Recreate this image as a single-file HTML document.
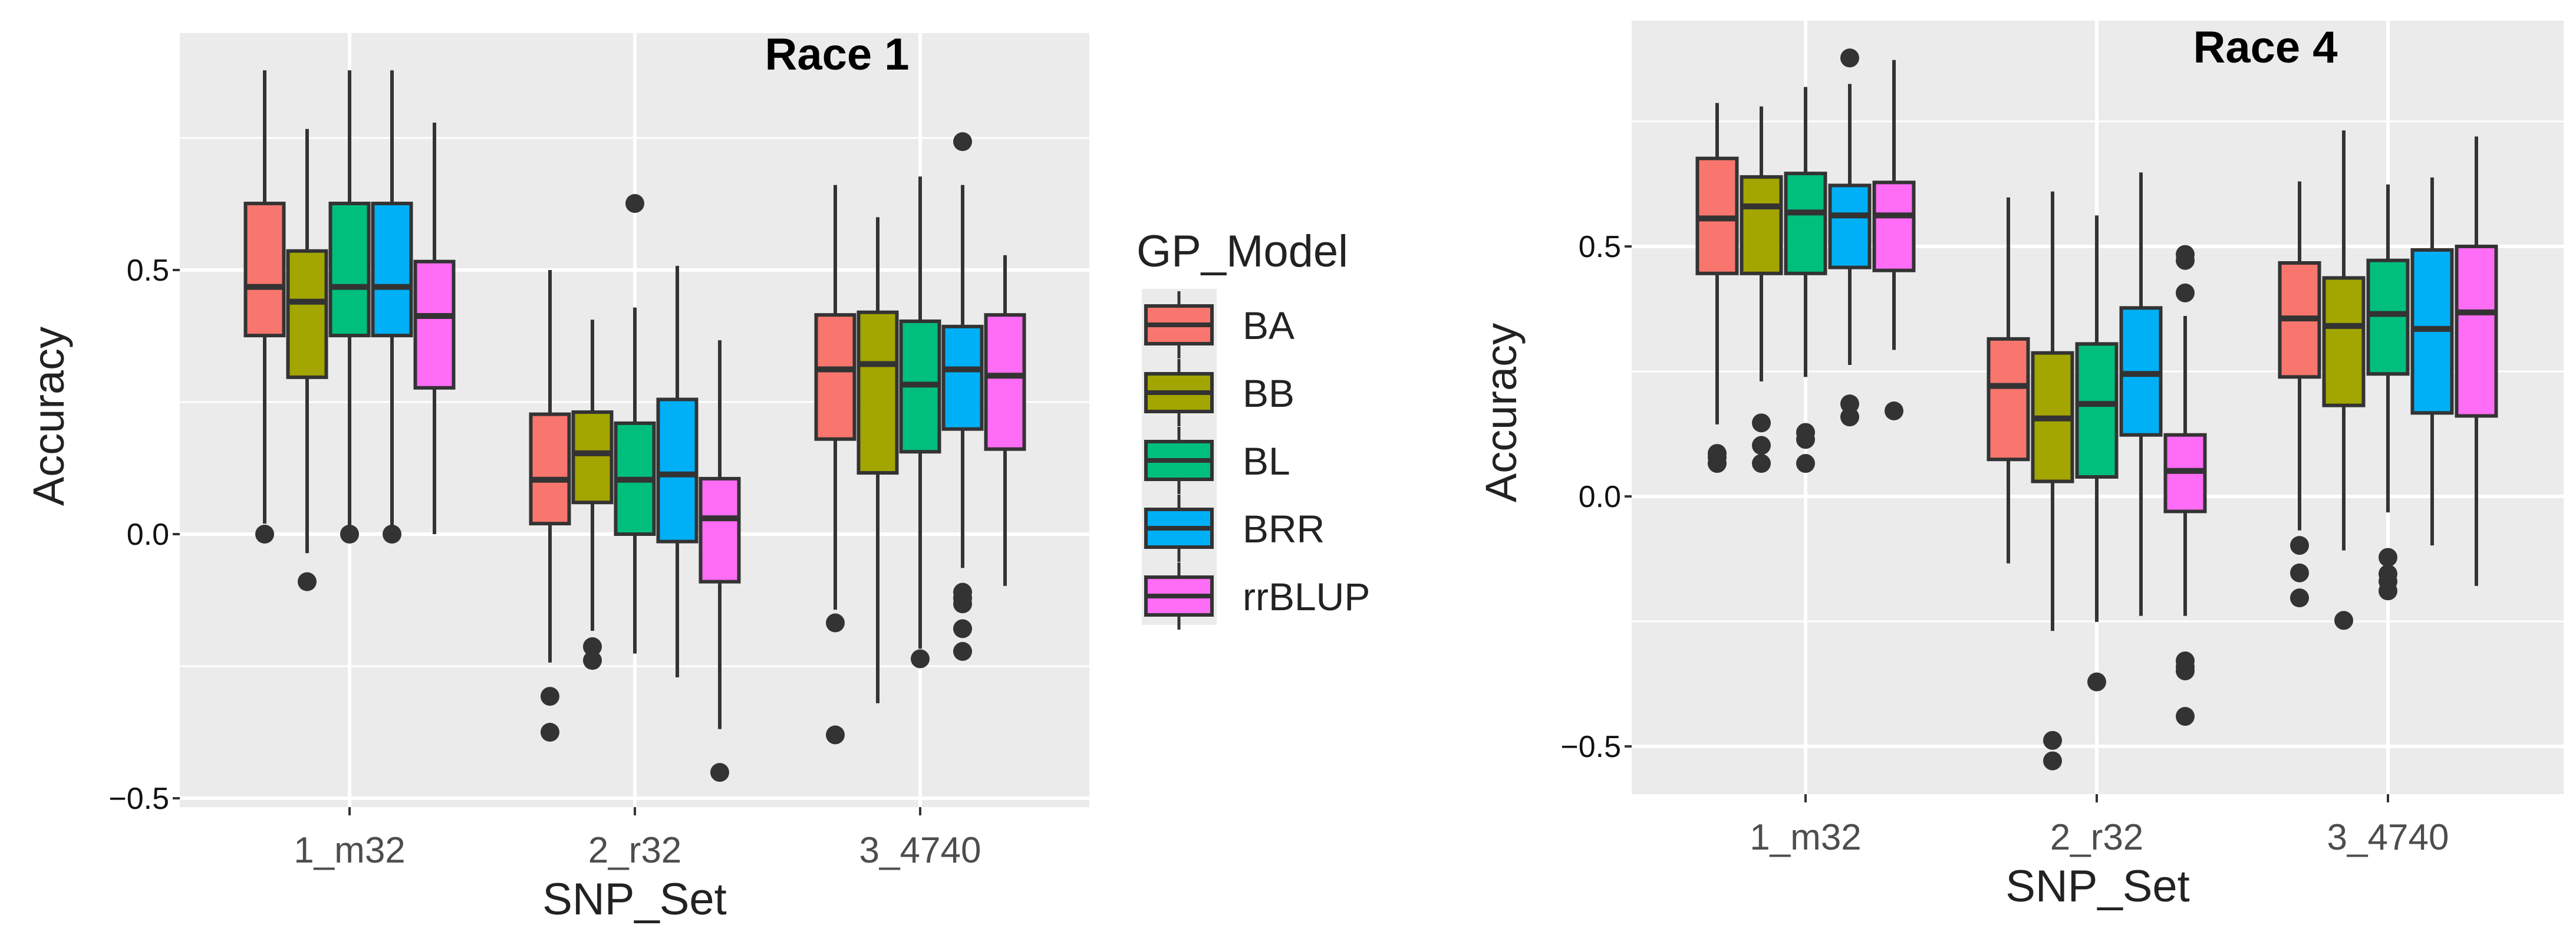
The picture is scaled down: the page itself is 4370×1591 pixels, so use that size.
<!DOCTYPE html>
<html><head><meta charset="utf-8"><style>
html,body{margin:0;padding:0;background:#fff;}
svg{display:block;font-family:"Liberation Sans",Arial,sans-serif;}
</style></head><body>
<svg id="chart" width="4370" height="1591" viewBox="0 0 4370 1591"></svg>
<script>
const categories = ["1_m32","2_r32","3_4740"];
const models = ["BA","BB","BL","BRR","rrBLUP"];
const colors = ["#F8766D","#A3A500","#00BF7D","#00B0F6","#FF6CF5"];
const yTicks = [-0.5, 0.0, 0.5];
const yTickLabels = ["\u22120.5","0.0","0.5"];
// [low whisker, q1, median, q3, high whisker] per category
const race1_BA = [[0.02,0.376,0.468,0.626,0.878],[-0.243,0.02,0.103,0.227,0.5],[-0.143,0.18,0.312,0.415,0.661]];
const race1_BB = [[-0.036,0.297,0.44,0.536,0.767],[-0.183,0.06,0.153,0.231,0.406],[-0.32,0.116,0.322,0.42,0.6]];
const race1_BL = [[0.015,0.376,0.468,0.626,0.878],[-0.226,0.0,0.103,0.21,0.429],[-0.217,0.156,0.283,0.403,0.677]];
const race1_BRR = [[0.015,0.376,0.468,0.626,0.878],[-0.271,-0.014,0.113,0.255,0.508],[-0.064,0.199,0.312,0.393,0.661]];
const race1_rrBLUP = [[0.0,0.277,0.413,0.516,0.779],[-0.369,-0.09,0.03,0.105,0.367],[-0.098,0.161,0.3,0.415,0.528]];
const race1_out_BA = [[0.0],[-0.307,-0.375],[-0.168,-0.38]];
const race1_out_BB = [[-0.09],[-0.213,-0.239],[]];
const race1_out_BL = [[0.0],[0.626],[-0.236]];
const race1_out_BRR = [[0.0],[],[0.743,-0.11,-0.121,-0.132,-0.179,-0.222]];
const race1_out_rrBLUP = [[],[-0.451],[]];

const race4_BA = [[0.144,0.446,0.556,0.676,0.787],[-0.134,0.074,0.221,0.315,0.598],[-0.068,0.239,0.356,0.467,0.63]];
const race4_BB = [[0.23,0.446,0.58,0.639,0.78],[-0.269,0.03,0.156,0.287,0.61],[-0.108,0.182,0.341,0.437,0.732]];
const race4_BL = [[0.239,0.446,0.568,0.646,0.819],[-0.251,0.039,0.185,0.305,0.562],[-0.032,0.245,0.365,0.472,0.624]];
const race4_BRR = [[0.263,0.458,0.562,0.622,0.825],[-0.239,0.123,0.245,0.377,0.648],[-0.098,0.167,0.335,0.493,0.638]];
const race4_rrBLUP = [[0.293,0.452,0.562,0.628,0.873],[-0.239,-0.03,0.051,0.123,0.361],[-0.179,0.161,0.368,0.5,0.72]];
const race4_out_BA = [[0.086,0.078,0.066],[],[-0.098,-0.153,-0.203]];
const race4_out_BB = [[0.147,0.102,0.066],[-0.488,-0.529],[-0.248]];
const race4_out_BL = [[0.128,0.114,0.066],[-0.371],[-0.122,-0.155,-0.17,-0.189]];
const race4_out_BRR = [[0.877,0.185,0.159],[],[]];
const race4_out_rrBLUP = [[0.171],[0.484,0.472,0.407,-0.329,-0.341,-0.349,-0.44],[]];

const NS="http://www.w3.org/2000/svg";
const svg=document.getElementById('chart');
function mk(tag,attrs,parent){const e=document.createElementNS(NS,tag);for(const k in attrs)e.setAttribute(k,attrs[k]);(parent||svg).appendChild(e);return e;}

function panel(p){
  const g=mk('g',{});
  
  
  const y=v=>p.y0-v*p.unit;
  const cx=i=>p.cx0+i*p.cstep;
  const bg=mk('rect',{x:p.left,y:p.top,width:p.right-p.left,height:p.bottom-p.top,fill:'#ebebeb'},g);
  
  
  for(let v=-0.75;v<=1.0;v+=0.5){const yy=y(v);if(yy>p.top&&yy<p.bottom){const l=mk('line',{x1:p.left,x2:p.right,y1:yy,y2:yy,stroke:'#fff','stroke-width':3},g);}}
  yTicks.forEach((v,i)=>{
    const l=mk('line',{x1:p.left,x2:p.right,y1:y(v),y2:y(v),stroke:'#fff','stroke-width':6},g);
    
    
    const tk=mk('line',{x1:p.left-12,x2:p.left,y1:y(v),y2:y(v),stroke:'#333','stroke-width':4},g);
    
    
    const t=mk('text',{x:p.left-18,y:y(v)+18,'text-anchor':'end','font-size':52,fill:'#111'},g);
    t.textContent=yTickLabels[i];
    
    
  });
  categories.forEach((c,i)=>{
    const l=mk('line',{x1:cx(i),x2:cx(i),y1:p.top,y2:p.bottom,stroke:'#fff','stroke-width':6},g);
    
    
    const tk=mk('line',{x1:cx(i),x2:cx(i),y1:p.bottom,y2:p.bottom+14,stroke:'#333','stroke-width':4},g);
    
    
    const t=mk('text',{x:cx(i),y:p.bottom+94,'text-anchor':'middle','font-size':62,fill:'#4d4d4d'},g);
    t.textContent=c;
    
    
  });
  models.forEach((m,j)=>{
    const stats=p.stats[j], outs=p.outs[j];
    categories.forEach((c,i)=>{
      const s=stats[i]; const x=cx(i)+(j-2)*p.dstep; const w=p.bw;
      const wh=mk('line',{x1:x,x2:x,y1:y(s[4]),y2:y(s[0]),stroke:'#333','stroke-width':6},g);
      
      
      const b=mk('rect',{x:x-w/2,y:y(s[3]),width:w,height:y(s[1])-y(s[3]),fill:colors[j],stroke:'#333','stroke-width':6},g);
      
      
      const md=mk('line',{x1:x-w/2,x2:x+w/2,y1:y(s[2]),y2:y(s[2]),stroke:'#333','stroke-width':10},g);
      
      
      outs[i].forEach(v=>{
        const o=mk('circle',{cx:x,cy:y(v),r:16,fill:'#333'},g);
        
        
      });
    });
  });
  const ti=mk('text',{x:p.titleX,y:p.titleY,'text-anchor':'middle','font-size':76,'font-weight':'bold',fill:'#000'},g);
  ti.textContent=p.title;
  
  
  const ya=mk('text',{x:0,y:0,'text-anchor':'middle','font-size':74,fill:'#222',transform:`translate(${p.yLabX},${p.yLabY}) rotate(-90)`},g);
  ya.textContent='Accuracy';
  
  
  const xa=mk('text',{x:(p.left+p.right)/2,y:p.bottom+182,'text-anchor':'middle','font-size':76,fill:'#222'},g);
  xa.textContent='SNP_Set';
  
  
}

panel({name:'race1-panel',title:'Race 1',left:305,right:1848,top:56,bottom:1369,y0:906,unit:896,cx0:593,cstep:484,dstep:72,bw:65,
  titleX:1420,titleY:118,yLabX:108,yLabY:706,
  stats:[race1_BA,race1_BB,race1_BL,race1_BRR,race1_rrBLUP],outs:[race1_out_BA,race1_out_BB,race1_out_BL,race1_out_BRR,race1_out_rrBLUP]});
panel({name:'race4-panel',title:'Race 4',left:2768,right:4349,top:35,bottom:1347,y0:842,unit:848,cx0:3063,cstep:494,dstep:75,bw:67,
  titleX:3843,titleY:106,yLabX:2572,yLabY:700,
  stats:[race4_BA,race4_BB,race4_BL,race4_BRR,race4_rrBLUP],outs:[race4_out_BA,race4_out_BB,race4_out_BL,race4_out_BRR,race4_out_rrBLUP]});

const lg=mk('g',{});


const lt=mk('text',{x:1928,y:452,'font-size':76,fill:'#222'},lg);
lt.textContent='GP_Model';


mk('rect',{x:1937,y:490,width:127,height:570,fill:'#ebebeb'},lg);
models.forEach((m,j)=>{
  const cy=551+j*115;
  const e=mk('g',{},lg);
  
  
  mk('line',{x1:2000,x2:2000,y1:cy-57,y2:cy+57,stroke:'#333','stroke-width':5},e);
  mk('rect',{x:1944,y:cy-32,width:112,height:64,fill:colors[j],stroke:'#333','stroke-width':6},e);
  mk('line',{x1:1944,x2:2056,y1:cy,y2:cy,stroke:'#333','stroke-width':8},e);
  const t=mk('text',{x:2108,y:cy+24,'font-size':66,fill:'#222'},e);
  t.textContent=m;
});
</script>
</body></html>
